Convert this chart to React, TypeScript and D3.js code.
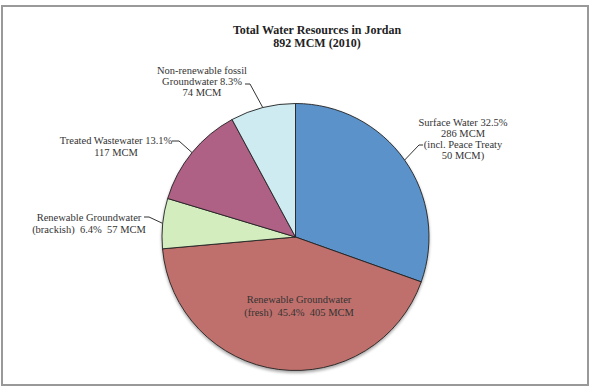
import React from "react";
import * as d3 from "d3";

const categories = [
  "Surface Water",
  "Renewable Groundwater (fresh)",
  "Renewable Groundwater (brackish)",
  "Treated Wastewater",
  "Non-renewable fossil Groundwater",
];
const valuesMCM = [286, 405, 57, 117, 74];
const colors = ["#5B92CA", "#C0706C", "#D3EDBF", "#AF6085", "#CDEBF0"];
const titleLines = ["Total Water Resources in Jordan", "892 MCM (2010)"];
const labelLines = [
  ["Surface Water 32.5%", "286 MCM", "(incl. Peace Treaty", "50 MCM)"],
  ["Renewable Groundwater", "(fresh)  45.4%  405 MCM"],
  ["Renewable Groundwater", "(brackish)  6.4%  57 MCM"],
  ["Treated Wastewater 13.1%", "117 MCM"],
  ["Non-renewable fossil", "Groundwater 8.3%", "74 MCM"],
];

const W = 603;
const H = 392;
const cx = 295.5;
const cy = 237;
const R = 133.5;
const font = "'Liberation Serif', 'Times New Roman', serif";

// label layout: centre x, first baseline, line height, leader [start x, y, elbow x]
const labelLayout: Array<{ x: number; y: number; lh: number; lead?: [number, number, number] }> = [
  { x: 463, y: 126, lh: 11, lead: [423, 145, 419] },
  { x: 299, y: 303, lh: 13 },
  { x: 89, y: 221, lh: 12, lead: [144, 217, 149] },
  { x: 116, y: 144, lh: 11.5, lead: [172, 141, 179] },
  { x: 202, y: 74, lh: 11, lead: [245, 84, 250] },
];

export default function App() {
  const pie = d3.pie<number>().sort(null).value((d) => d);
  const arcs = pie(valuesMCM);
  const arc = d3.arc<d3.PieArcDatum<number>>().innerRadius(0).outerRadius(R);

  return (
    <svg width={W} height={H} style={{ position: "absolute", left: 0, top: 0, background: "#fff" }}>
      <defs>
        <filter id="sh" x="-20%" y="-20%" width="140%" height="140%">
          <feDropShadow dx="0" dy="2" stdDeviation="1.5" floodColor="#000" floodOpacity="0.35" />
        </filter>
      </defs>
      <rect x={2} y={6} width={586} height={379} fill="#fff" stroke="#999" strokeWidth={2} />
      {titleLines.map((t, i) => (
        <text key={i} x={317} y={34 + i * 13} textAnchor="middle" fontFamily={font} fontWeight="bold" fontSize={12} fill="#222">
          {t}
        </text>
      ))}
      <g transform={`translate(${cx},${cy})`}>
        <g filter="url(#sh)">
          {arcs.map((a, i) => (
            <path key={categories[i]} d={arc(a) || ""} fill={colors[i]} stroke="#222" strokeWidth={0.9} strokeLinejoin="round" />
          ))}
        </g>
      </g>
      {arcs.map((a, i) => {
        const L = labelLayout[i];
        const mid = (a.startAngle + a.endAngle) / 2;
        const ex = cx + R * Math.sin(mid);
        const ey = cy - R * Math.cos(mid);
        return (
          <g key={"l" + i}>
            {L.lead && (
              <polyline
                points={`${L.lead[0]},${L.lead[1]} ${L.lead[2]},${L.lead[1]} ${ex},${ey}`}
                fill="none"
                stroke="#333"
                strokeWidth={1}
              />
            )}
            {labelLines[i].map((t, j) => (
              <text key={j} x={L.x} y={L.y + j * L.lh} textAnchor="middle" fontFamily={font} fontSize={10.5} fill="#333" style={{ whiteSpace: "pre" }}>
                {t}
              </text>
            ))}
          </g>
        );
      })}
    </svg>
  );
}
